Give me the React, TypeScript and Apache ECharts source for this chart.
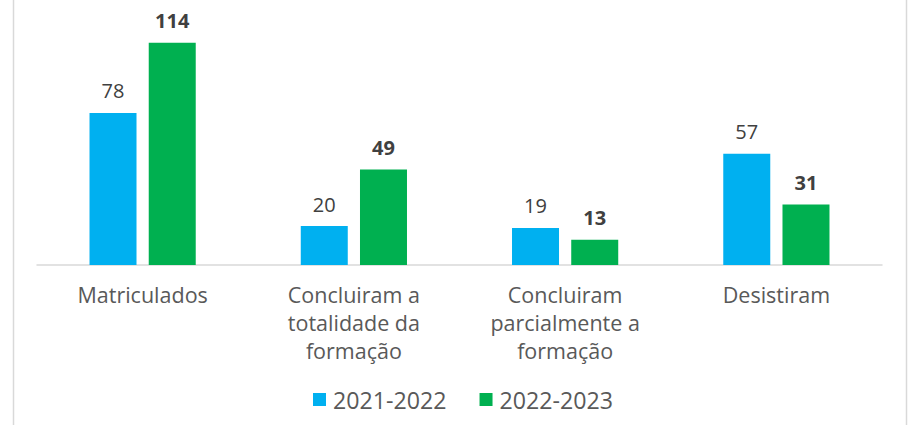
import React, { useEffect, useRef } from "react";
import * as echarts from "echarts";

const categories = [
  "Matriculados",
  "Concluiram a\ntotalidade da\nformação",
  "Concluiram\nparcialmente a\nformação",
  "Desistiram",
];
const seriesNames = ["2021-2022", "2022-2023"];
const values2122 = [78, 20, 19, 57];
const values2223 = [114, 49, 13, 31];

export default function App() {
  const ref = useRef<HTMLDivElement>(null);
  useEffect(() => {
    if (!ref.current) return;
    const chart = echarts.init(ref.current, undefined, { renderer: "svg" });
    const font = "'Open Sans', 'Noto Sans', sans-serif";
    chart.setOption({
      animation: false,
      backgroundColor: "#ffffff",
      textStyle: { fontFamily: font },
      grid: { left: 37, right: 27, top: 31, bottom: 160, containLabel: false },
      legend: {
        data: seriesNames,
        left: 308,
        top: 383,
        padding: 5,
        icon: "rect",
        itemWidth: 13,
        itemHeight: 13,
        itemGap: 33,
        textStyle: { fontFamily: font, fontSize: 23.2, color: "#595959", padding: [0, 0, 0, 2] },
      },
      xAxis: {
        type: "category",
        data: categories,
        axisLine: { show: true, lineStyle: { color: "#d9d9d9", width: 1.5 } },
        axisTick: { show: false },
        axisLabel: {
          interval: 0,
          margin: 15,
          fontFamily: font,
          fontSize: 21.5,
          lineHeight: 28,
          color: "#595959",
        },
      },
      yAxis: {
        type: "value",
        min: 0,
        max: 120,
        show: false,
        splitLine: { show: false },
      },
      graphic: [
        { type: "line", shape: { x1: 13.5, y1: 0, x2: 13.5, y2: 425 }, style: { stroke: "#d9d9d9", lineWidth: 1.5 } },
        { type: "line", shape: { x1: 906.5, y1: 0, x2: 906.5, y2: 425 }, style: { stroke: "#d9d9d9", lineWidth: 1.5 } },
      ],
      series: [
        {
          name: seriesNames[0],
          type: "bar",
          data: values2122,
          barWidth: 47,
          barGap: "26%",
          itemStyle: { color: "#00B0F0" },
          label: {
            show: true,
            position: "top",
            distance: 12,
            fontFamily: font,
            fontSize: 20,
            color: "#404040",
          },
        },
        {
          name: seriesNames[1],
          type: "bar",
          data: values2223,
          barWidth: 47,
          barGap: "26%",
          itemStyle: { color: "#00B050" },
          label: {
            show: true,
            position: "top",
            distance: 12,
            fontFamily: font,
            fontSize: 20,
            fontWeight: "bold",
            color: "#404040",
          },
        },
      ],
    });
    return () => chart.dispose();
  }, []);
  return (
    <div
      ref={ref}
      style={{ position: "fixed", left: 0, top: 0, width: 909, height: 425 }}
    />
  );
}
